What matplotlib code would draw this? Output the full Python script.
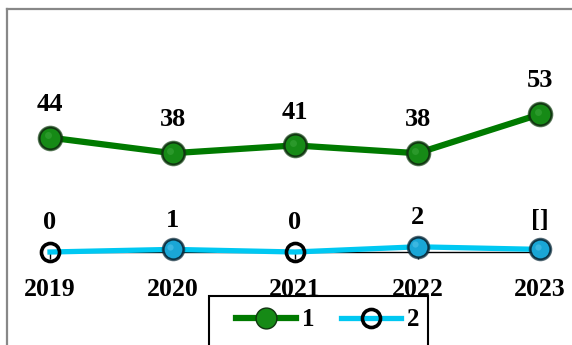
import matplotlib.pyplot as plt
from matplotlib.lines import Line2D
from matplotlib.patches import Rectangle
import numpy as np

plt.rcParams['font.family'] = ['Liberation Serif', 'DejaVu Serif']
plt.rcParams['font.weight'] = 'bold'

years = ['2019', '2020', '2021', '2022', '2023']
series1 = [44, 38, 41, 38, 53]
series2 = [0, 1, 0, 2, 1]
labels1 = ['44', '38', '41', '38', '53']
labels2 = ['0', '1', '0', '2', '[]']
legend_names = ['1', '2']

green_line = '#007a00'
green_face = '#168a16'
cyan_line = '#00c8f2'
cyan_face = '#1aa6d6'

fig = plt.figure(figsize=(5.72, 3.45), dpi=100)
ax = fig.add_axes([0, 0, 1, 1])
ax.set_facecolor('none')

x = np.arange(len(years))

# series 1: green line with ball markers
ax.plot(x, series1, color=green_line, lw=4.5, zorder=3, solid_capstyle='butt')
ax.plot(x, series1, 'o', ms=17.5, mfc='#0d3d0d', mec='#0d3d0d', alpha=0.6, zorder=4)
ax.plot(x, series1, 'o', ms=15.5, mfc=green_face, mec='#103510', mew=1.2, zorder=5)
ax.plot(x - 0.02, np.array(series1) + 1.0, 'o', ms=5, mfc='#3fa83f', mec='none', alpha=0.5, zorder=6)

# series 2: cyan line, open circles at zero, balls otherwise
s2 = np.array(series2)
ax.plot(x, s2, color=cyan_line, lw=3.8, zorder=3)
zero = s2 == 0
ax.plot(x[zero], s2[zero], 'o', ms=13, mfc='none', mec='black', mew=2.6, zorder=5)
ax.plot(x[~zero], s2[~zero], 'o', ms=16, mfc='#0a2a3a', mec='#0a2a3a', alpha=0.6, zorder=4)
ax.plot(x[~zero], s2[~zero], 'o', ms=14, mfc=cyan_face, mec='#0b3345', mew=1.2, zorder=5)
ax.plot(x[~zero] - 0.02, s2[~zero] + 0.9, 'o', ms=4.5, mfc='#5cc8ec', mec='none', alpha=0.5, zorder=6)

for xi, yi, t in zip(x, series1, labels1):
    ax.annotate(t, (xi, yi), xytext=(0, 24), textcoords='offset points',
                ha='center', va='center', fontsize=19, fontweight='bold')
for xi, yi, t in zip(x, series2, labels2):
    ax.annotate(t, (xi, yi), xytext=(0, 21), textcoords='offset points',
                ha='center', va='center', fontsize=19, fontweight='bold')

# axis scaling to match picture
xmin = -50 / 122.5
ax.set_xlim(xmin, xmin + 572 / 122.5)
ymin = -93 / 2.6
ax.set_ylim(ymin, ymin + 345 / 2.6)

for s in ['left', 'right', 'top']:
    ax.spines[s].set_visible(False)
ax.spines['bottom'].set_position(('data', 0))
ax.spines['bottom'].set_bounds(0, 4)
ax.spines['bottom'].set_linewidth(1.0)
ax.set_xticks(x)
ax.set_xticklabels(years, fontsize=18.5, fontweight='bold')
ax.tick_params(axis='x', direction='out', length=5, width=1, pad=14)
ax.set_yticks([])

# legend: frame drawn separately so it can run off the bottom edge
W, H = 572, 345
fig.add_artist(Rectangle((209 / W, -0.05), (428 - 209) / W, 0.05 + (345 - 296) / H,
                         transform=fig.transFigure, fill=True, facecolor='white',
                         edgecolor='black', lw=1.5, zorder=1))
h1 = Line2D([], [], color=green_line, lw=4.5, marker='o', ms=15, mfc=green_face, mec='#103510')
h2 = Line2D([], [], color=cyan_line, lw=3.8, marker='o', ms=13, mfc='none', mec='black', mew=2.6)
leg = fig.legend([h1, h2], legend_names, loc='center left',
                 bbox_to_anchor=(236 / W, 1 - 320 / H), ncol=2,
                 borderaxespad=0, borderpad=0, frameon=False,
                 prop={'size': 18, 'weight': 'bold'}, handlelength=2.4,
                 handletextpad=0.25, columnspacing=1.05)
leg.set_zorder(2)

# outer chart border (gray)
fig.add_artist(Line2D([7 / W, 1], [1 - 9 / H, 1 - 9 / H], color='#888888', lw=1.6,
                      transform=fig.transFigure))
fig.add_artist(Line2D([7 / W, 7 / W], [0, 1 - 9 / H], color='#888888', lw=1.6,
                      transform=fig.transFigure))

fig.savefig('out.png', dpi=100)
